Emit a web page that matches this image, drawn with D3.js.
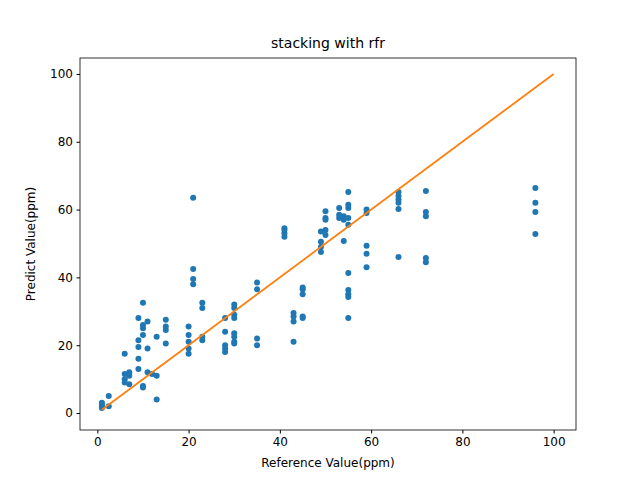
<!DOCTYPE html>
<html><head><meta charset="utf-8">
<script src="https://cdn.jsdelivr.net/npm/d3@7"></script>
<style>body{margin:0;background:#fff}text{font-family:"DejaVu Sans",sans-serif}</style>
</head><body><svg id="c" width="640" height="480"></svg>
<script>
const refX = [1,1,1,1,2.5,2.5,
 6,6,6,6,7,7,7,9,9,9,9,9,10,10,10,10,10,10,11,11,11,12,13,13,13,15,15,15,15,
 20,20,20,20,20,21,21,21,21,23,23,23,23,28,28,28,28,28,30,30,30,30,30,30,30,30,35,35,35,35,
 41,41,41,41,43,43,43,43,45,45,45,45,45,49,49,49,49,50,50,50,50,50,
 53,53,53,54,54,54,55,55,55,55,55,55,55,55,55,55,
 59,59,59,59,59,66,66,66,66,66,66,72,72,72,72,72,96,96,96,96];
const predY = [1.5,2,2.5,3,2,5,
 17.5,11.5,10,9,12,11,8.5,28,21.5,19.5,16,13,32.5,26,25,23,8,7.5,27,19,12,11.5,22.5,11,4,27.5,25.5,24.5,20.5,
 25.5,23,21,19,17.5,63.5,42.5,39.5,38,32.5,31,22.5,21.5,28,24,20,19,18,32,31,29,28,23.5,22.5,21,20.5,38.5,36.5,22,20,
 54.5,54,53,52,29.5,28.5,27,21,37,36.5,35,28.5,28,53.5,50.5,49,47.5,59.5,57.5,57,54,52.5,
 60.5,58.5,57.5,58,57,50.7,65.2,61.4,60.5,57.5,55.5,41.3,36.3,35,34.2,28,
 60,59,49.3,47,43,65.2,64,63,62,60.2,46,65.5,59.3,58,45.7,44.5,66.4,62,59.3,52.8];
const lineX = [1,100], lineY = [1,100];
const xTicks = [0,20,40,60,80,100], yTicks = [0,20,40,60,80,100];

const svg = d3.select("#c");
const L=80,R=576,T=58,B=430;
const x = d3.scaleLinear().domain([-3.8,104.9]).range([L,R]);
const y = d3.scaleLinear().domain([-5,104.7]).range([B,T]);
svg.append("g").selectAll("circle").data(refX).join("circle")
  .attr("cx",(d)=>x(d)).attr("cy",(d,i)=>y(predY[i])).attr("r",3).attr("fill","#1f77b4");
svg.append("path").attr("d",d3.line().x(d=>x(d[0])).y(d=>y(d[1]))(lineX.map((v,i)=>[v,lineY[i]])))
  .attr("stroke","#ff7f0e").attr("stroke-width",1.8).attr("fill","none");
svg.append("rect").attr("x",L).attr("y",T).attr("width",R-L).attr("height",B-T).attr("fill","none").attr("stroke","#000").attr("stroke-width",0.8);
const ax = svg.append("g").attr("transform",`translate(0,${B})`).call(d3.axisBottom(x).tickValues(xTicks).tickSize(3.5).tickPadding(3.5));
const ay = svg.append("g").attr("transform",`translate(${L},0)`).call(d3.axisLeft(y).tickValues(yTicks).tickSize(3.5).tickPadding(3.5));
[ax,ay].forEach(a=>{a.select(".domain").remove();a.selectAll("text").attr("font-size",12).attr("font-family","DejaVu Sans").attr("fill","#000");a.selectAll("line").attr("stroke","#000");});
svg.append("text").attr("x",(L+R)/2).attr("y",48).attr("text-anchor","middle").attr("font-size",14).text("stacking with rfr");
svg.append("text").attr("x",(L+R)/2).attr("y",467).attr("text-anchor","middle").attr("font-size",12).text("Reference Value(ppm)");
svg.append("text").attr("transform",`translate(35,${(T+B)/2}) rotate(-90)`).attr("text-anchor","middle").attr("font-size",12).text("Predict Value(ppm)");
</script></body></html>
